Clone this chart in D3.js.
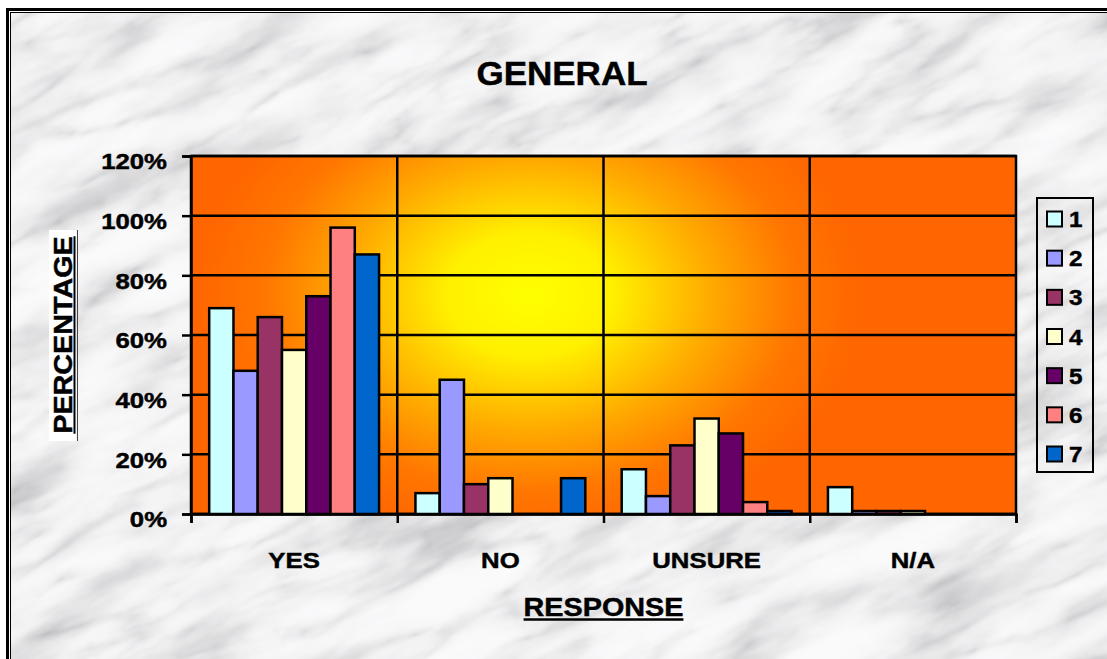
<!DOCTYPE html>
<html>
<head>
<meta charset="utf-8">
<script src="https://cdn.jsdelivr.net/npm/d3@7"></script>
<style>
  html, body { margin: 0; padding: 0; background: #fff; }
  svg { display: block; font-family: "Liberation Sans", Arial, sans-serif; font-weight: bold; }
  .heavy { stroke: #000; stroke-width: 0.45px; paint-order: stroke; }
</style>
</head>
<body>
<svg id="chart" width="1107" height="659"></svg>
<script>
// ---- data ----
const categories = ["YES", "NO", "UNSURE", "N/A"];
const seriesNames = ["1", "2", "3", "4", "5", "6", "7"];
// percentage per response category, one array per series
const series1 = [69, 7, 15, 9];
const series2 = [48, 45, 6, 1];
const series3 = [66, 10, 23, 1];
const series4 = [55, 12, 32, 1];
const series5 = [73, 0, 27, 0];
const series6 = [96, 0, 4, 0];
const series7 = [87, 12, 1, 0];
const yTickValues = [0, 20, 40, 60, 80, 100, 120];

const seriesValues = [series1, series2, series3, series4, series5, series6, series7];
const seriesColors = ["#ccffff", "#9999ff", "#993366", "#ffffcc", "#660066", "#ff8080", "#0066cc"];

const table = categories.map((c, i) => ({
  category: c,
  values: seriesNames.map((s, j) => ({ series: s, index: j, value: seriesValues[j][i] }))
}));

// ---- layout ----
const W = 1107, H = 659;
const plot = { left: 191, right: 1016, top: 156, bottom: 514 };
const svg = d3.select("#chart");
const defs = svg.append("defs");

// widens bold text slightly, like the original font rendering
function widen(sel, k) {
  sel.each(function () {
    const L = this.getComputedTextLength();
    this.setAttribute("textLength", (L * k).toFixed(1));
    this.setAttribute("lengthAdjust", "spacingAndGlyphs");
  });
}

// ---- marble background: cloudy layer multiplied by vein layer ----
const marble = defs.append("filter")
  .attr("id", "marble")
  .attr("filterUnits", "userSpaceOnUse")
  .attr("x", -600).attr("y", -600).attr("width", 2400).attr("height", 2000);

marble.append("feTurbulence")
  .attr("type", "fractalNoise")
  .attr("baseFrequency", "0.007 0.022")
  .attr("numOctaves", 5)
  .attr("seed", 11)
  .attr("result", "cloudRaw");
marble.append("feColorMatrix")
  .attr("in", "cloudRaw")
  .attr("type", "matrix")
  .attr("values", "1 0 0 0 0  1 0 0 0 0  1 0 0 0 0  0 0 0 0 1")
  .attr("result", "cloudGray");
const ct1 = marble.append("feComponentTransfer").attr("in", "cloudGray").attr("result", "cloud");
const cloudTable = "0.62 0.64 0.68 0.76 0.85 0.91 0.94 0.955 0.96 0.965 0.965";
ct1.append("feFuncR").attr("type", "table").attr("tableValues", cloudTable);
ct1.append("feFuncG").attr("type", "table").attr("tableValues", cloudTable);
ct1.append("feFuncB").attr("type", "table").attr("tableValues", cloudTable);

marble.append("feTurbulence")
  .attr("type", "turbulence")
  .attr("baseFrequency", "0.005 0.02")
  .attr("numOctaves", 5)
  .attr("seed", 7)
  .attr("result", "veinRaw");
marble.append("feColorMatrix")
  .attr("in", "veinRaw")
  .attr("type", "matrix")
  .attr("values", "1 0 0 0 0  1 0 0 0 0  1 0 0 0 0  0 0 0 0 1")
  .attr("result", "veinGray");
const ct2 = marble.append("feComponentTransfer").attr("in", "veinGray").attr("result", "veins");
const veinTable = "0.72 0.86 0.95 0.99 1 1 1 1 1 1";
ct2.append("feFuncR").attr("type", "table").attr("tableValues", veinTable);
ct2.append("feFuncG").attr("type", "table").attr("tableValues", veinTable);
ct2.append("feFuncB").attr("type", "table").attr("tableValues", veinTable);

marble.append("feComposite")
  .attr("in", "cloud").attr("in2", "veins")
  .attr("operator", "arithmetic")
  .attr("k1", 1).attr("k2", 0).attr("k3", 0).attr("k4", 0)
  .attr("result", "mix");
marble.append("feColorMatrix")
  .attr("in", "mix")
  .attr("type", "matrix")
  .attr("values", "1 0 0 0 0  0 1 0 0 0  0 0 1 0 0.01  0 0 0 0 1");
marble.append("feGaussianBlur").attr("stdDeviation", 0.9);

defs.append("clipPath").attr("id", "frameClip")
  .append("rect").attr("x", 11).attr("y", 13).attr("width", W - 11).attr("height", H - 13);

svg.append("rect").attr("width", W).attr("height", H).attr("fill", "#fff");
svg.append("g").attr("clip-path", "url(#frameClip)")
  .append("g").attr("transform", "rotate(-25 550 330)")
  .append("rect")
  .attr("x", -600).attr("y", -600).attr("width", 2400).attr("height", 2000)
  .attr("fill", "#ccc")
  .attr("filter", "url(#marble)");

// frame double lines (top and left)
svg.append("rect").attr("x", 6).attr("y", 8).attr("width", W - 6).attr("height", 3).attr("fill", "#000");
svg.append("rect").attr("x", 10).attr("y", 12).attr("width", W - 10).attr("height", 1).attr("fill", "#000");
svg.append("rect").attr("x", 6).attr("y", 8).attr("width", 3).attr("height", H - 8).attr("fill", "#000");
svg.append("rect").attr("x", 10).attr("y", 12).attr("width", 1).attr("height", H - 12).attr("fill", "#000");

// ---- plot area gradient ----
const grad = defs.append("radialGradient")
  .attr("id", "plotFill")
  .attr("gradientUnits", "userSpaceOnUse")
  .attr("cx", 0).attr("cy", 0).attr("r", 1)
  .attr("gradientTransform", "translate(530,295) scale(330,245)");
[[0, "#ffff00"], [0.25, "#fff000"], [0.55, "#ffaa00"], [0.8, "#ff7700"], [1, "#ff6600"]]
  .forEach(([o, c]) => grad.append("stop").attr("offset", o).attr("stop-color", c));

svg.append("rect")
  .attr("x", plot.left).attr("y", plot.top)
  .attr("width", plot.right - plot.left).attr("height", plot.bottom - plot.top)
  .attr("fill", "url(#plotFill)");

// ---- scales ----
const y = d3.scaleLinear().domain([0, 120]).range([plot.bottom, plot.top]);
const x0 = d3.scaleBand().domain(categories).range([plot.left, plot.right]).paddingInner(0).paddingOuter(0);
const x1 = d3.scaleBand().domain(seriesNames).range([0, x0.bandwidth()]).paddingInner(0).paddingOuter(0.75);
const xEdge = d3.scaleLinear().domain([0, categories.length]).range([plot.left, plot.right]);

// gridlines
svg.append("g").selectAll("line").data(yTickValues).join("line")
  .attr("x1", plot.left).attr("x2", plot.right)
  .attr("y1", d => y(d)).attr("y2", d => y(d))
  .attr("stroke", "#000").attr("stroke-width", 2.5);

// category dividers
svg.append("g").selectAll("line").data(d3.range(1, categories.length)).join("line")
  .attr("x1", d => xEdge(d)).attr("x2", d => xEdge(d))
  .attr("y1", plot.top).attr("y2", plot.bottom)
  .attr("stroke", "#000").attr("stroke-width", 2.5);

// plot border
svg.append("rect")
  .attr("x", plot.left).attr("y", plot.top)
  .attr("width", plot.right - plot.left).attr("height", plot.bottom - plot.top)
  .attr("fill", "none").attr("stroke", "#000").attr("stroke-width", 2.5);

// ---- bars ----
svg.append("g").selectAll("g").data(table).join("g")
  .attr("transform", d => `translate(${x0(d.category)},0)`)
  .selectAll("rect").data(d => d.values).join("rect")
  .attr("x", d => x1(d.series))
  .attr("y", d => y(d.value))
  .attr("width", x1.bandwidth())
  .attr("height", d => y(0) - y(d.value))
  .attr("fill", d => seriesColors[d.index])
  .attr("stroke", "#000").attr("stroke-width", 2.5);

// ---- axes ----
const yAxis = svg.append("g")
  .attr("transform", `translate(${plot.left},0)`)
  .call(d3.axisLeft(y).tickValues(yTickValues).tickFormat(d => d + "%").tickSize(9).tickPadding(15));
yAxis.select(".domain").attr("stroke", "#000").attr("stroke-width", 2.5);
yAxis.selectAll(".tick line").attr("stroke", "#000").attr("stroke-width", 2.5);
yAxis.selectAll(".tick text")
  .attr("class", "heavy")
  .attr("font-size", 22).attr("font-family", "Liberation Sans, Arial, sans-serif")
  .attr("font-weight", "bold").attr("fill", "#000").attr("dy", "0.58em")
  .call(widen, 1.17);

const xTicks = svg.append("g")
  .attr("transform", `translate(0,${plot.bottom})`)
  .call(d3.axisBottom(xEdge).tickValues(d3.range(0, categories.length + 1)).tickFormat("").tickSize(9));
xTicks.select(".domain").attr("stroke", "#000").attr("stroke-width", 2.5);
xTicks.selectAll(".tick line").attr("stroke", "#000").attr("stroke-width", 2.5);

const xLabels = svg.append("g")
  .attr("transform", `translate(0,${plot.bottom})`)
  .call(d3.axisBottom(x0).tickSize(0).tickPadding(0));
xLabels.select(".domain").remove();
xLabels.selectAll(".tick text")
  .attr("class", "heavy")
  .attr("font-size", 22).attr("font-family", "Liberation Sans, Arial, sans-serif")
  .attr("font-weight", "bold").attr("fill", "#000")
  .attr("y", 54).attr("dy", 0)
  .call(widen, 1.17);

// ---- titles ----
svg.append("text")
  .attr("class", "heavy")
  .attr("x", 562).attr("y", 85).attr("text-anchor", "middle")
  .attr("font-size", 34).attr("fill", "#000")
  .text("GENERAL")
  .call(widen, 1.03);

// x-axis title, underlined
const xt = svg.append("text")
  .attr("class", "heavy")
  .attr("x", (plot.left + plot.right) / 2).attr("y", 616).attr("text-anchor", "middle")
  .attr("font-size", 25).attr("fill", "#000")
  .text("RESPONSE")
  .call(widen, 1.15);
const xtLen = +xt.attr("textLength");
svg.append("line")
  .attr("x1", (plot.left + plot.right) / 2 - xtLen / 2).attr("x2", (plot.left + plot.right) / 2 + xtLen / 2)
  .attr("y1", 619.5).attr("y2", 619.5).attr("stroke", "#000").attr("stroke-width", 2.5);

// y-axis title on a white panel, underlined
svg.append("rect").attr("x", 49).attr("y", 230).attr("width", 27).attr("height", 211).attr("fill", "#fff");
svg.append("line").attr("x1", 77.5).attr("x2", 77.5).attr("y1", 230).attr("y2", 441)
  .attr("stroke", "#444").attr("stroke-width", 1);
const yt = svg.append("text")
  .attr("class", "heavy")
  .attr("transform", "translate(72,335) rotate(-90)")
  .attr("text-anchor", "middle")
  .attr("font-size", 25).attr("fill", "#000")
  .text("PERCENTAGE")
  .call(widen, 1.15);
const ytLen = +yt.attr("textLength");
svg.append("line")
  .attr("x1", 74.5).attr("x2", 74.5)
  .attr("y1", 335 - ytLen / 2).attr("y2", 335 + ytLen / 2)
  .attr("stroke", "#000").attr("stroke-width", 2);

// ---- legend ----
const legend = svg.append("g");
legend.append("rect")
  .attr("x", 1037).attr("y", 198).attr("width", 56).attr("height", 274)
  .attr("fill", "none").attr("stroke", "#000").attr("stroke-width", 2);
const ly = d3.scalePoint().domain(seriesNames).range([219, 454]);
const items = legend.selectAll("g.item").data(seriesNames).join("g").attr("class", "item")
  .attr("transform", d => `translate(0,${ly(d)})`);
items.append("rect")
  .attr("x", 1047).attr("y", -7.5).attr("width", 15).attr("height", 15)
  .attr("fill", (d, i) => seriesColors[i]).attr("stroke", "#000").attr("stroke-width", 2);
items.append("text")
  .attr("class", "heavy")
  .attr("x", 1069).attr("y", 8)
  .attr("font-size", 22).attr("fill", "#000")
  .text(d => d)
  .call(widen, 1.1);
</script>
</body>
</html>
